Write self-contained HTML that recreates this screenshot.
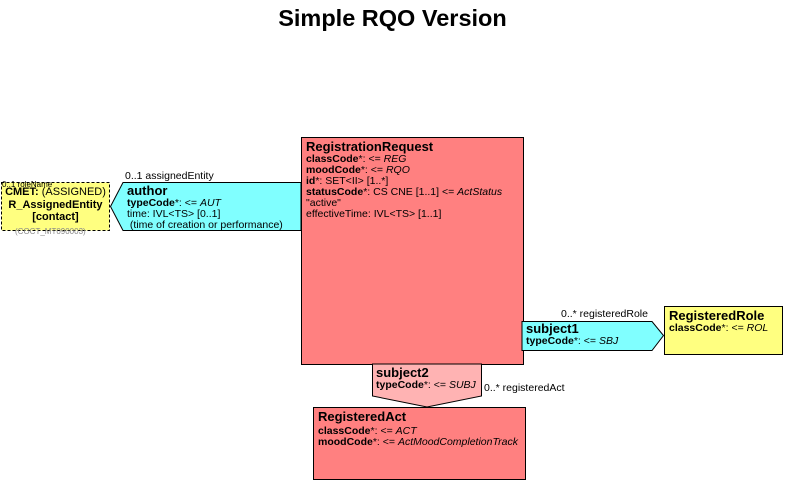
<!DOCTYPE html>
<html><head><style>
body{margin:0;width:785px;height:480px;background:#fff;position:relative;overflow:hidden;font-family:"Liberation Sans",Arial,sans-serif;color:#000}
.a{position:absolute;white-space:nowrap;font-size:10.5px;line-height:11px}
.h{font-weight:bold;font-size:13px;line-height:14px}
b{font-weight:bold}
</style></head><body>
<div class="a" style="left:0;top:4px;width:785px;text-align:center;font-size:23.5px;line-height:28px;font-weight:bold">Simple RQO Version</div>
<svg width="785" height="480" style="position:absolute;left:0;top:0">
<rect x="301.5" y="137.5" width="222" height="227" fill="#ff8080" stroke="#000"/>
<polygon points="123,182.5 301,182.5 301,230.5 123,230.5 110.5,206.5" fill="#80ffff" stroke="#000"/>
<rect x="1.5" y="182.5" width="108" height="48" fill="#ffff80" stroke="#000" stroke-dasharray="3,2"/>
<polygon points="522,321.5 652,321.5 663.5,335.5 652,350.5 522,350.5" fill="#80ffff" stroke="#000"/>
<rect x="664.5" y="306.5" width="118" height="48" fill="#ffff80" stroke="#000"/>
<polygon points="372.5,364 481.5,364 481.5,396 427,407 372.5,396" fill="#ffb3b3" stroke="#000"/>
<rect x="313.5" y="407.5" width="212" height="72" fill="#ff8080" stroke="#000"/>
</svg>
<div class="a" style="left:306px;top:140px"><div class="h">RegistrationRequest</div>
<b>classCode</b>*: &lt;= <i>REG</i><br><b>moodCode</b>*: &lt;= <i>RQO</i><br><b>id</b>*: SET&lt;II&gt; [1..*]<br><b>statusCode</b>*: CS CNE [1..1] &lt;= <i>ActStatus</i><br>"active"<br>effectiveTime: IVL&lt;TS&gt; [1..1]</div>
<div class="a" style="left:125px;top:171px">0..1 assignedEntity</div>
<div class="a" style="left:127px;top:184px"><div class="h">author</div><b>typeCode</b>*: &lt;= <i>AUT</i><br>time: IVL&lt;TS&gt; [0..1]<br>&nbsp;(time of creation or performance)</div>
<div class="a" style="left:2px;top:180px;font-size:8px;line-height:9px">0..1 roleName</div>
<div class="a" style="left:1px;top:186px;width:109px;text-align:center;font-size:11px;line-height:12.5px"><b>CMET:</b> (ASSIGNED)<br><b>R_AssignedEntity</b><br><b>[contact]</b></div>
<div class="a" style="left:15px;top:226px;font-size:8px;color:#888">(COCT_MT090003)</div>
<div class="a" style="left:561px;top:309px">0..* registeredRole</div>
<div class="a" style="left:526px;top:322px"><div class="h">subject1</div><b>typeCode</b>*: &lt;= <i>SBJ</i></div>
<div class="a" style="left:669px;top:309px"><div class="h">RegisteredRole</div><b>classCode</b>*: &lt;= <i>ROL</i></div>
<div class="a" style="left:376px;top:366px"><div class="h">subject2</div><b>typeCode</b>*: &lt;= <i>SUBJ</i></div>
<div class="a" style="left:484px;top:383px">0..* registeredAct</div>
<div class="a" style="left:318px;top:410px"><div class="h" style="margin-bottom:2px">RegisteredAct</div><b>classCode</b>*: &lt;= <i>ACT</i><br><b>moodCode</b>*: &lt;= <i>ActMoodCompletionTrack</i></div>
</body></html>
